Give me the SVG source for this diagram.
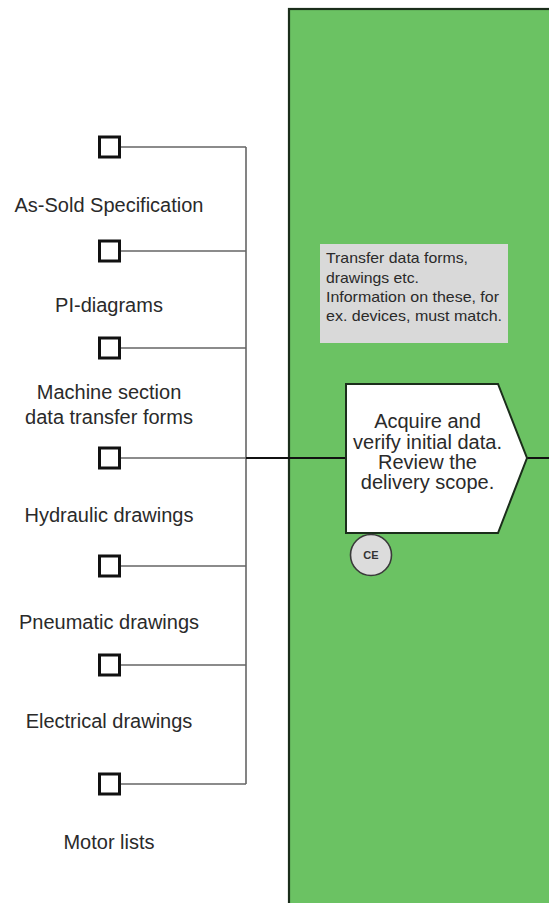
<svg xmlns="http://www.w3.org/2000/svg" width="549" height="903" viewBox="0 0 549 903">
  <style>
    .lbl { font-family: "Liberation Sans", Arial, sans-serif; font-size: 20px; fill: #2a2a2a; text-anchor: middle; }
    .doc { fill: #ffffff; stroke: #111111; stroke-width: 3; }
    .feed { fill: none; stroke: #666666; stroke-width: 1.6; }
    .main { fill: none; stroke: #111111; stroke-width: 2.2; }
    .note { font-family: "Liberation Sans", Arial, sans-serif; font-size: 15px; fill: #2a2a2a; }
    .proc { font-family: "Liberation Sans", Arial, sans-serif; font-size: 20px; fill: #2a2a2a; text-anchor: middle; }
  </style>

  <rect x="0" y="0" width="549" height="903" fill="#ffffff"/>

  <!-- swimlane -->
  <g id="lane">
    <rect x="289" y="9" width="300" height="960" fill="#6bc263" stroke="#1b2e1b" stroke-width="2.2"/>
  </g>

  <!-- connectors -->
  <g id="connectors">
    <path class="feed" d="M121 147 H246 M121 251 H246 M121 348 H246 M121 566 H246 M121 665 H246 M121 784 H246 M246 147 V784"/>
    <path class="feed" d="M121 458 H246"/>
    <path class="main" d="M246 458 H346 M527 458 H549"/>
  </g>

  <!-- input documents -->
  <g id="doc-as-sold">
    <rect class="doc" x="99.5" y="137" width="20" height="20"/>
    <text class="lbl" x="109" y="212">As-Sold Specification</text>
  </g>
  <g id="doc-pi">
    <rect class="doc" x="99.5" y="241" width="20" height="20"/>
    <text class="lbl" x="109" y="312">PI-diagrams</text>
  </g>
  <g id="doc-machine">
    <rect class="doc" x="99.5" y="338" width="20" height="20"/>
    <text class="lbl" x="109" y="399">Machine section</text>
    <text class="lbl" x="109" y="424">data transfer forms</text>
  </g>
  <g id="doc-hydraulic">
    <rect class="doc" x="99.5" y="448" width="20" height="20"/>
    <text class="lbl" x="109" y="522">Hydraulic drawings</text>
  </g>
  <g id="doc-pneumatic">
    <rect class="doc" x="99.5" y="556" width="20" height="20"/>
    <text class="lbl" x="109" y="629">Pneumatic drawings</text>
  </g>
  <g id="doc-electrical">
    <rect class="doc" x="99.5" y="655" width="20" height="20"/>
    <text class="lbl" x="109" y="728">Electrical drawings</text>
  </g>
  <g id="doc-motor">
    <rect class="doc" x="99.5" y="774" width="20" height="20"/>
    <text class="lbl" x="109" y="849">Motor lists</text>
  </g>

  <!-- annotation -->
  <g id="note">
    <rect x="320" y="244" width="188" height="99" fill="#d9d9d9"/>
    <text class="note" x="326" y="262.5" textLength="142" lengthAdjust="spacingAndGlyphs">Transfer data forms,</text>
    <text class="note" x="326" y="282.5" textLength="93" lengthAdjust="spacingAndGlyphs">drawings etc.</text>
    <text class="note" x="326" y="302" textLength="173" lengthAdjust="spacingAndGlyphs">Information on these, for</text>
    <text class="note" x="326" y="321" textLength="176" lengthAdjust="spacingAndGlyphs">ex. devices, must match.</text>
  </g>

  <!-- process step -->
  <g id="process">
    <polygon points="346,384 498,384 527,458 498,533 346,533" fill="#ffffff" stroke="#1b2e1b" stroke-width="2"/>
    <text class="proc" x="427.5" y="428">Acquire and</text>
    <text class="proc" x="427.5" y="449">verify initial data.</text>
    <text class="proc" x="427.5" y="469">Review the</text>
    <text class="proc" x="427.5" y="489">delivery scope.</text>
  </g>

  <!-- role marker -->
  <g id="role-ce">
    <circle cx="371" cy="555" r="20.5" fill="#dcdcdc" stroke="#3a3a3a" stroke-width="1.6"/>
    <text x="371" y="559" font-family="Liberation Sans, Arial, sans-serif" font-size="11" font-weight="bold" fill="#333333" text-anchor="middle">CE</text>
  </g>
</svg>
